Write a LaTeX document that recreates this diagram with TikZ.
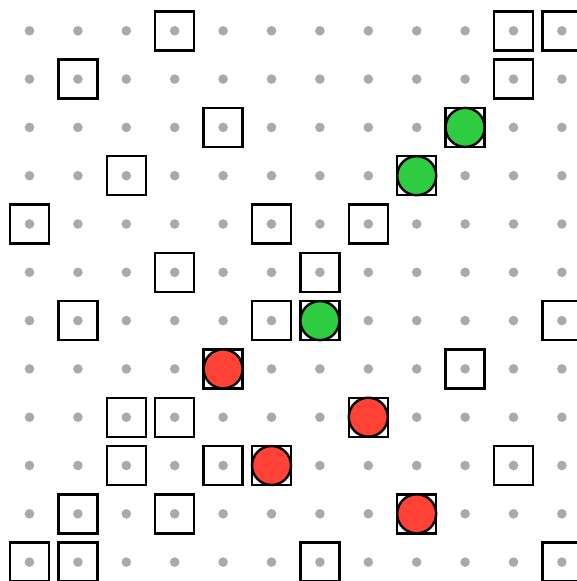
\documentclass[tikz,border=0pt]{standalone}
\definecolor{dotgray}{HTML}{AAAAAA}
\definecolor{tokgreen}{HTML}{2ECC40}
\definecolor{tokred}{HTML}{FF4136}
\tikzset{
  griddot/.style={fill=dotgray,draw=none},
  cellbox/.style={draw=black,line width=2.4pt,fill=none},
  token/.style={draw=black,line width=2.4pt}
}
\newcommand{\cx}[1]{29.5+48.4*#1}
\newcommand{\cy}[1]{-(30.8+48.3*#1)}
\begin{document}
\begin{tikzpicture}[x=1pt,y=1pt]
\useasboundingbox (0,0) rectangle (577,-581);
\clip (0,0) rectangle (577,-581);
\foreach \c in {0,...,11}{
  \foreach \r in {0,...,11}{
    \fill[griddot] ({\cx{\c}},{\cy{\r}}) circle (4.8);
  }
}
\foreach \c/\r in {3/0,10/0,11/0,1/1,10/1,4/2,9/2,2/3,8/3,0/4,5/4,7/4,3/5,6/5,1/6,5/6,6/6,11/6,4/7,9/7,2/8,3/8,7/8,2/9,4/9,5/9,10/9,1/10,3/10,8/10,0/11,1/11,6/11,11/11}{
  \draw[cellbox] ({\cx{\c}-19.5},{\cy{\r}-19.5}) rectangle ({\cx{\c}+19.5},{\cy{\r}+19.5});
}
\foreach \c/\r in {9/2,8/3,6/6}{
  \draw[token,fill=tokgreen] ({\cx{\c}},{\cy{\r}}) circle (19.5);
}
\foreach \c/\r in {4/7,7/8,5/9,8/10}{
  \draw[token,fill=tokred] ({\cx{\c}},{\cy{\r}}) circle (19.5);
}
\end{tikzpicture}
\end{document}
